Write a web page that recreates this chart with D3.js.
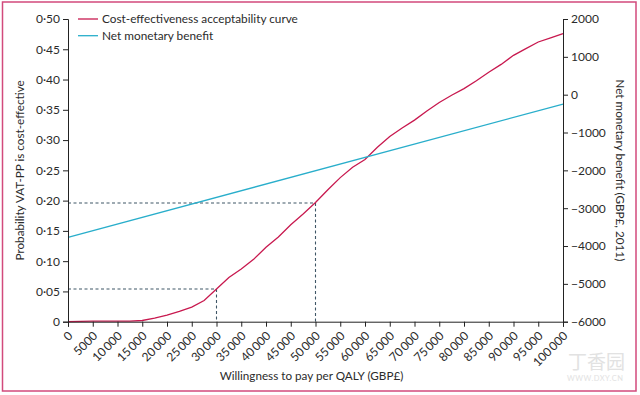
<!DOCTYPE html>
<html><head><meta charset="utf-8">
<script src="https://cdn.jsdelivr.net/npm/d3@7"></script>
<style>body{margin:0;background:#fff}svg{display:block}text{font-family:Lato,sans-serif;fill:#2b2b2b}</style>
</head><body><svg id="c" width="640" height="395"></svg>
<script>
const wtp = [0,2500,5000,7500,10000,12500,15000,17500,20000,22500,25000,27500,30000,32500,35000,37500,40000,42500,45000,47500,50000,52500,55000,57500,60000,62500,65000,67500,70000,72500,75000,77500,80000,82500,85000,87500,90000,92500,95000,97500,100000];
const ceac = [0,0.0005,0.001,0.001,0.001,0.001,0.002,0.006,0.011,0.017,0.024,0.035,0.054,0.073,0.087,0.103,0.123,0.140,0.160,0.178,0.197,0.218,0.238,0.255,0.268,0.288,0.306,0.320,0.333,0.348,0.362,0.374,0.385,0.398,0.412,0.425,0.440,0.451,0.462,0.469,0.476];
const nmbX = [0,100000];
const nmb = [-3770,-250];
const xTicks = d3.range(0,100001,5000);
const yLeftTicks = [0,0.05,0.10,0.15,0.20,0.25,0.30,0.35,0.40,0.45,0.50];
const yRightTicks = [2000,1000,0,-1000,-2000,-3000,-4000,-5000,-6000];
const refX = [30000,50000];
const refY = [0.054,0.196];
const seriesNames = ["Cost-effectiveness acceptability curve","Net monetary benefit"];
const colors = ["#c8194f","#29aecb"];

const svg = d3.select("#c");
svg.append("rect").attr("x",2.5).attr("y",2).attr("width",633.5).attr("height",389).attr("fill","none").attr("stroke","#d24a7c").attr("stroke-width",1.5);

const L=68,R=563,T=19,B=321.7;
const x = d3.scaleLinear().domain([0,100000]).range([L,R]);
const yl = d3.scaleLinear().domain([0,0.5]).range([B,T]);
const yr = d3.scaleLinear().domain([-6000,2000]).range([B,T]);

const fmtL = d => d===0?"0":d3.format(".2f")(d).replace(".","\u00B7");
const fmtX = d => d>=10000 ? d3.format(",")(d).replace(/,/g,"\u2009") : String(d);
const fmtR = d => d<0 ? "\u2212"+Math.abs(d) : String(d);

// watermark
svg.append("text").attr("x",568).attr("y",369).style("font-size","19px").style("font-family","'Noto Sans CJK SC'").style("fill","#e2e2e2").text("丁香园");
svg.append("text").attr("x",567).attr("y",381).style("font-size","7.5px").style("letter-spacing","0.5px").style("fill","#e2e2e2").text("WWW.DXY.CN");

// dashed reference lines
const g = svg.append("g");
refX.forEach((rx,i)=>{
  g.append("path").attr("d",`M${x(0)},${yl(refY[i])}H${x(rx)}V${B}`)
   .attr("fill","none").attr("stroke","#3f5666").attr("stroke-width",1.1).attr("stroke-dasharray","3,2.5");
});

// lines
const lineC = d3.line().x((d,i)=>x(wtp[i])).y(d=>yl(d));
svg.append("path").attr("d",lineC(ceac)).attr("fill","none").attr("stroke",colors[0]).attr("stroke-width",1.3);
const lineN = d3.line().x((d,i)=>x(nmbX[i])).y(d=>yr(d));
svg.append("path").attr("d",lineN(nmb)).attr("fill","none").attr("stroke",colors[1]).attr("stroke-width",1.3);

// axes
const ax = svg.append("g").attr("transform",`translate(0,${B})`)
  .call(d3.axisBottom(x).tickValues(xTicks).tickSize(5).tickFormat(fmtX));
ax.selectAll("text").attr("y",0).attr("dy","0.35em").attr("text-anchor","end")
  .attr("transform","translate(2,12) rotate(-45)").style("font-size","12px");
const al = svg.append("g").attr("transform",`translate(${L},0)`)
  .call(d3.axisLeft(yl).tickValues(yLeftTicks).tickSize(5).tickFormat(fmtL));
al.selectAll("text").style("font-size","12px");
const ar = svg.append("g").attr("transform",`translate(${R},0)`)
  .call(d3.axisRight(yr).tickValues(yRightTicks).tickSize(5).tickFormat(fmtR));
ar.selectAll("text").style("font-size","12px");
svg.selectAll(".domain,.tick line").attr("stroke","#222").attr("stroke-width",1);
svg.selectAll(".tick text").attr("fill","#2b2b2b").style("font-family","Lato,sans-serif");

// titles
svg.append("text").attr("x",(L+R)/2-4).attr("y",380).attr("text-anchor","middle").style("font-size","11.7px").text("Willingness to pay per QALY (GBP£)");
svg.append("text").attr("transform",`translate(24,${(T+B)/2}) rotate(-90)`).attr("text-anchor","middle").style("font-size","11.7px").text("Probability VAT-PP is cost-effective");
svg.append("text").attr("transform",`translate(616,${(T+B)/2}) rotate(90)`).attr("text-anchor","middle").style("font-size","11.7px").text("Net monetary benefit (GBP£, 2011)");

// legend
seriesNames.forEach((n,i)=>{
  const yy = 19 + i*16.7;
  svg.append("line").attr("x1",78).attr("x2",98).attr("y1",yy).attr("y2",yy).attr("stroke",colors[i]).attr("stroke-width",1.3);
  svg.append("text").attr("x",102).attr("y",yy).attr("dy","0.35em").style("font-size","11.8px").text(n);
});
</script></body></html>
